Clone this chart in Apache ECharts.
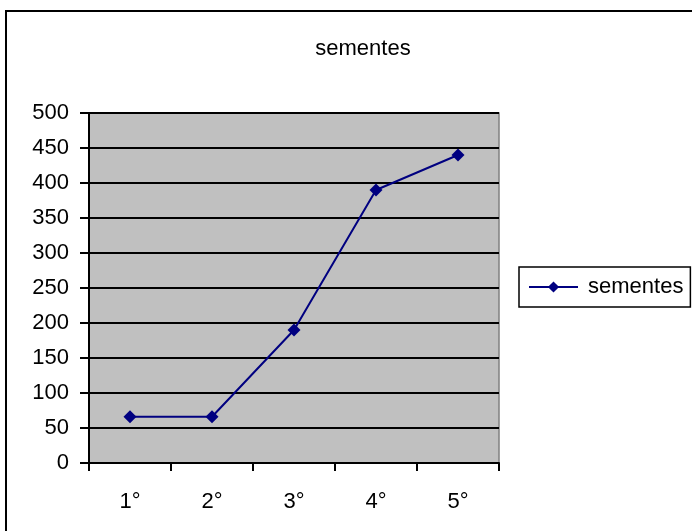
<!DOCTYPE html>
<html>
<head>
<meta charset="utf-8">
<script src="https://cdn.jsdelivr.net/npm/echarts@6/dist/echarts.min.js"></script>
<style>
html,body{margin:0;padding:0;background:#fff;}
#chart{width:692px;height:531px;}
</style>
</head>
<body>
<div id="chart"></div>
<script>
// Seed counts per stage
const categories = ['1°', '2°', '3°', '4°', '5°'];
const sementes = [66, 66, 190, 390, 440];
const yTicks = { min: 0, max: 500, interval: 50 };

const FONT = 'Liberation Sans, Arial, sans-serif';
const chart = echarts.init(document.getElementById('chart'), null, { renderer: 'canvas' });

chart.setOption({
  animation: false,
  backgroundColor: '#ffffff',
  title: {
    text: 'sementes',
    left: 358, top: 33, textAlign: 'center',
    textStyle: { fontFamily: FONT, fontSize: 22, fontWeight: 'normal', color: '#000' }
  },
  legend: {
    data: ['sementes'],
    left: 519, top: 267,
    orient: 'vertical',
    borderColor: '#000', borderWidth: 1.5,
    padding: [9, 7, 9, 9],
    itemWidth: 49, itemHeight: 14,
    itemGap: 0,
    textStyle: { fontFamily: FONT, fontSize: 22, color: '#000', padding: [0, 0, 0, 5] }
  },
  grid: {
    left: 89, top: 113, width: 410, height: 350,
    show: true,
    backgroundColor: '#c0c0c0',
    borderColor: '#808080', borderWidth: 1.5
  },
  xAxis: {
    type: 'category',
    data: categories,
    boundaryGap: true,
    axisLine: { lineStyle: { color: '#000', width: 2 } },
    axisTick: { show: true, length: 8, lineStyle: { color: '#000', width: 2 } },
    axisLabel: { margin: 28, fontFamily: FONT, fontSize: 22, color: '#000' },
    splitLine: { show: false }
  },
  yAxis: {
    type: 'value',
    min: yTicks.min, max: yTicks.max, interval: yTicks.interval,
    axisLine: { show: true, lineStyle: { color: '#000', width: 2 } },
    axisTick: { show: true, length: 9, lineStyle: { color: '#000', width: 2 } },
    axisLabel: { margin: 20, fontFamily: FONT, fontSize: 22, color: '#000' },
    splitLine: { show: true, lineStyle: { color: '#000', width: 2 } }
  },
  series: [{
    name: 'sementes',
    type: 'line',
    data: sementes,
    symbol: 'diamond',
    symbolSize: 13,
    lineStyle: { color: '#000080', width: 2 },
    itemStyle: { color: '#000080' }
  }],
  graphic: [{
    type: 'rect',
    shape: { x: 6, y: 11, width: 700, height: 540 },
    style: { fill: 'none', stroke: '#000', lineWidth: 2 },
    silent: true, z: 100
  }]
});
</script>
</body>
</html>
